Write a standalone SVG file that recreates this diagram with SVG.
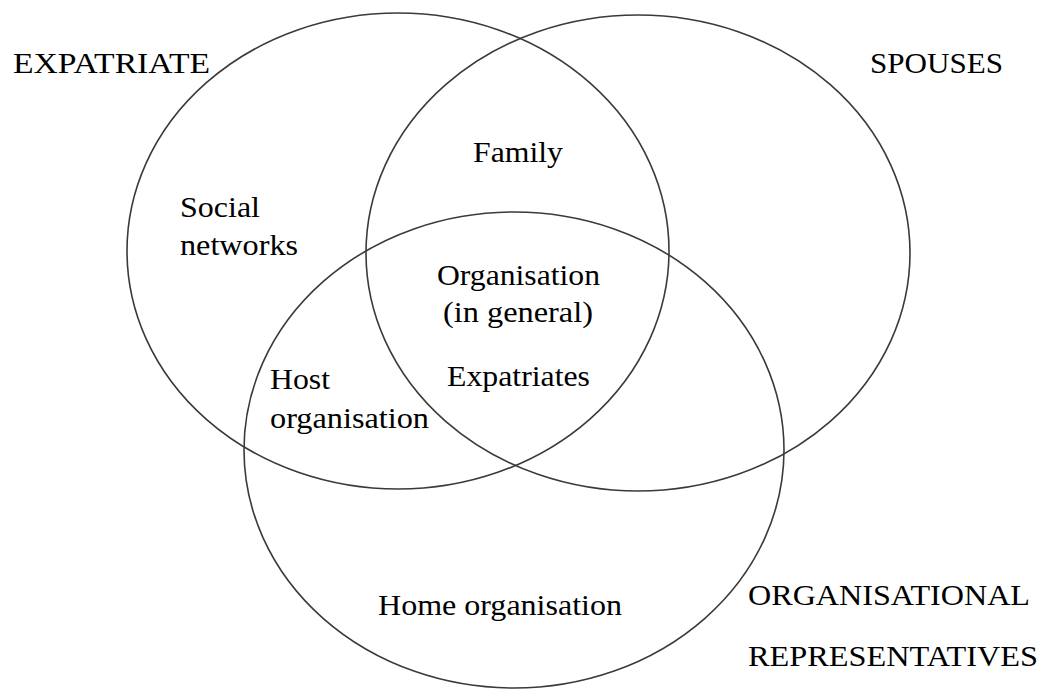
<svg xmlns="http://www.w3.org/2000/svg" width="1040" height="690" viewBox="0 0 1040 690">
  <style>
    .set { fill: none; stroke: #3a3a3a; stroke-width: 1.6; }
    text { font-family: "Liberation Serif", "Times New Roman", serif; font-size: 30px; fill: #000; }
  </style>
  <rect width="1040" height="690" fill="#fff"/>

  <!-- Three overlapping sets -->
  <g id="set-expatriate">
    <ellipse class="set" cx="398" cy="251" rx="271" ry="238"/>
    <text x="13" y="73" textLength="197" lengthAdjust="spacingAndGlyphs">EXPATRIATE</text>
  </g>
  <g id="set-spouses">
    <ellipse class="set" cx="638" cy="253" rx="272" ry="238"/>
    <text x="870" y="73" textLength="133" lengthAdjust="spacingAndGlyphs">SPOUSES</text>
  </g>
  <g id="set-organisational">
    <ellipse class="set" cx="514" cy="450" rx="270" ry="238"/>
    <text x="748" y="605" textLength="282" lengthAdjust="spacingAndGlyphs">ORGANISATIONAL</text>
    <text x="748" y="666" textLength="290" lengthAdjust="spacingAndGlyphs">REPRESENTATIVES</text>
  </g>

  <!-- Region labels -->
  <g id="region-family">
    <text x="473" y="162" textLength="90" lengthAdjust="spacingAndGlyphs">Family</text>
  </g>
  <g id="region-social">
    <text x="180" y="217" textLength="80" lengthAdjust="spacingAndGlyphs">Social</text>
    <text x="180" y="255" textLength="118" lengthAdjust="spacingAndGlyphs">networks</text>
  </g>
  <g id="region-organisation">
    <text x="437" y="285" textLength="163" lengthAdjust="spacingAndGlyphs">Organisation</text>
    <text x="443" y="322" textLength="150" lengthAdjust="spacingAndGlyphs">(in general)</text>
  </g>
  <g id="region-expatriates">
    <text x="447" y="386" textLength="143" lengthAdjust="spacingAndGlyphs">Expatriates</text>
  </g>
  <g id="region-host">
    <text x="270" y="389" textLength="60" lengthAdjust="spacingAndGlyphs">Host</text>
    <text x="270" y="428" textLength="159" lengthAdjust="spacingAndGlyphs">organisation</text>
  </g>
  <g id="region-home">
    <text x="378" y="615" textLength="244" lengthAdjust="spacingAndGlyphs">Home organisation</text>
  </g>

  <g id="connectors"/>
</svg>
